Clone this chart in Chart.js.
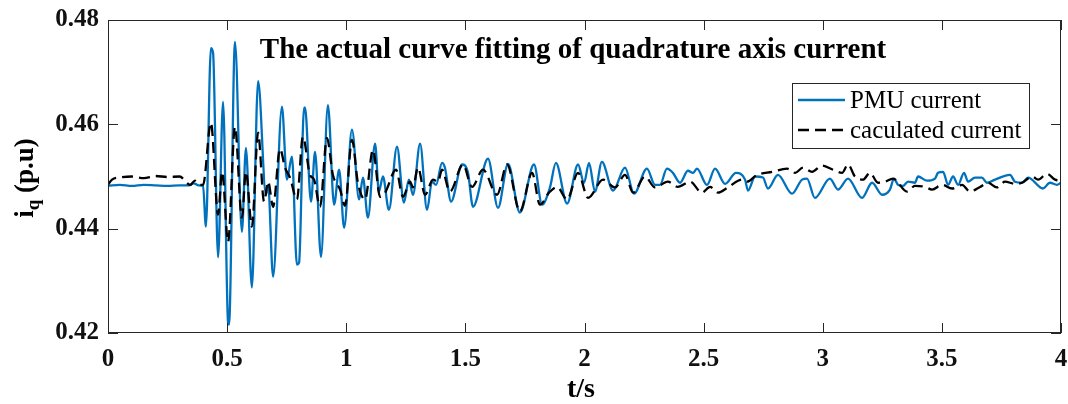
<!DOCTYPE html>
<html><head><meta charset="utf-8">
<script src="https://cdn.jsdelivr.net/npm/chart.js@4.4.0/dist/chart.umd.min.js"></script>
<style>html,body{margin:0;padding:0;background:#fff;overflow:hidden}#wrap{width:1068px;height:404px;position:relative}</style>
</head><body><div id="wrap"><canvas id="c" width="1068" height="404"></canvas></div>
<script>
// ---- data ----
const tPMU = [
0,0.05,0.1,0.15,0.2,0.25,0.3,0.34,0.36,0.38,0.399,
0.411,0.432,0.441,0.462,0.483,0.504,0.508,0.533,0.562,0.579,
0.604,0.630,0.663,0.672,0.693,0.730,0.751,0.772,0.793,0.802,
0.823,0.827,0.852,0.869,0.894,0.923,0.949,0.970,0.991,1.024,
1.054,1.070,1.091,1.121,1.137,1.154,1.179,1.213,1.242,1.263,
1.280,1.310,1.339,1.360,1.377,1.402,1.414,1.440,1.486,1.511,
1.532,1.595,1.637,1.679,1.729,1.788,1.822,1.855,1.880,1.927,
1.973,1.998,2.019,2.044,2.073,2.120,2.170,2.208,2.262,2.296,
2.317,2.346,2.371,2.401,2.434,2.455,2.472,2.514,2.548,2.590,
2.636,2.674,2.686,2.716,2.749,2.770,2.812,2.871,2.913,2.934,
2.967,3.030,3.064,3.106,3.165,3.207,3.249,3.282,3.299,3.316,
3.337,3.358,3.387,3.400,3.438,3.471,3.484,3.505,3.526,3.547,
3.568,3.593,3.610,3.639,3.668,3.689,3.723,3.786,3.807,3.836,
3.862,3.924,3.954,3.983,4.0];
const iPMU = [
0.4482,0.4484,0.4482,0.4484,0.4483,0.4482,0.4483,0.4483,0.4487,0.4483,0.4482,
0.4404,0.4746,0.4737,0.4345,0.4643,0.4220,0.4216,0.4758,0.4394,0.4555,
0.4287,0.4683,0.4465,0.4484,0.4308,0.4634,0.4494,0.4538,0.4331,0.4335,
0.4632,0.4632,0.4452,0.4547,0.4346,0.4637,0.4446,0.4513,0.4402,0.4590,
0.4456,0.4498,0.4421,0.4563,0.4471,0.4500,0.4436,0.4557,0.4450,0.4494,
0.4465,0.4563,0.4436,0.4490,0.4484,0.4526,0.4517,0.4452,0.4523,0.4507,
0.4442,0.4534,0.4440,0.4524,0.4431,0.4523,0.4446,0.4479,0.4526,0.4448,
0.4523,0.4488,0.4526,0.4471,0.4528,0.4473,0.4517,0.4467,0.4515,0.4484,
0.4484,0.4515,0.4507,0.4488,0.4511,0.4507,0.4515,0.4484,0.4515,0.4486,
0.4507,0.4494,0.4473,0.4500,0.4498,0.4477,0.4503,0.4467,0.4494,0.4496,
0.4459,0.4496,0.4475,0.4496,0.4459,0.4488,0.4465,0.4475,0.4496,0.4484,
0.4482,0.4490,0.4488,0.4500,0.4492,0.4496,0.4507,0.4509,0.4484,0.4500,
0.4484,0.4507,0.4490,0.4498,0.4498,0.4488,0.4494,0.4503,0.4490,0.4488,
0.4498,0.4477,0.4488,0.4484,0.4488];
const tCalc = [
0,0.017,0.05,0.1,0.15,0.2,0.25,0.3,0.345,0.365,0.387,0.399,
0.432,0.462,0.479,0.504,0.533,0.562,0.579,0.604,0.630,0.655,
0.672,0.693,0.722,0.743,0.764,0.793,0.818,0.848,0.865,0.890,
0.919,0.944,0.974,0.995,1.024,1.049,1.079,1.112,1.142,1.163,
1.209,1.238,1.268,1.280,1.301,1.331,1.364,1.385,1.402,1.435,
1.490,1.528,1.574,1.633,1.675,1.729,1.780,1.813,1.851,1.885,
1.927,1.973,2.015,2.078,2.128,2.170,2.204,2.254,2.296,2.350,
2.392,2.443,2.493,2.527,2.560,2.602,2.661,2.682,2.724,2.787,
2.850,2.884,2.917,2.955,2.997,3.043,3.081,3.106,3.135,3.169,
3.198,3.232,3.261,3.295,3.354,3.387,3.429,3.459,3.501,3.543,
3.585,3.618,3.660,3.694,3.731,3.765,3.807,3.836,3.879,3.904,
3.941,3.975,4.0];
const iCalc = [
0.4484,0.4494,0.4498,0.4500,0.4497,0.4501,0.4499,0.4500,0.4484,0.4492,0.4484,0.4484,
0.4603,0.4427,0.4509,0.4375,0.4595,0.4421,0.4509,0.4404,0.4584,0.4452,
0.4490,0.4442,0.4553,0.4517,0.4498,0.4456,0.4576,0.4503,0.4494,0.4442,
0.4574,0.4503,0.4475,0.4444,0.4570,0.4488,0.4456,0.4551,0.4461,0.4469,
0.4513,0.4461,0.4490,0.4479,0.4517,0.4465,0.4494,0.4490,0.4513,0.4471,
0.4523,0.4480,0.4513,0.4465,0.4523,0.4433,0.4507,0.4446,0.4469,0.4480,
0.4456,0.4507,0.4459,0.4494,0.4479,0.4503,0.4469,0.4500,0.4479,0.4490,
0.4480,0.4490,0.4469,0.4480,0.4469,0.4479,0.4494,0.4490,0.4503,0.4509,
0.4515,0.4507,0.4517,0.4509,0.4521,0.4513,0.4507,0.4523,0.4500,0.4494,
0.4507,0.4488,0.4490,0.4496,0.4471,0.4482,0.4480,0.4475,0.4484,0.4477,
0.4484,0.4471,0.4480,0.4488,0.4479,0.4490,0.4486,0.4488,0.4500,0.4494,
0.4505,0.4494,0.4492];
const xTicks = [0,0.5,1,1.5,2,2.5,3,3.5,4];
const yTicks = [0.42,0.44,0.46,0.48];
const xTickLabels = ['0','0.5','1','1.5','2','2.5','3','3.5','4'];
const yTickLabels = ['0.42','0.44','0.46','0.48'];
const seriesNames = ['PMU current','caculated current'];
const titleText = 'The actual curve fitting of quadrature axis current';
const xTitle = 't/s';

const BLUE = '#0072BD';
const SERIF = '"Liberation Serif","Times New Roman",serif';
const DASH = [11,6];

const decor = {
  id:'decor',
  afterDatasetsDraw(chart){
    const {ctx, chartArea:a, scales:{x,y}} = chart;
    ctx.save();
    ctx.strokeStyle='#262626'; ctx.lineWidth=1;
    ctx.strokeRect(a.left+0.5, a.top+0.5, a.right-a.left-1, a.bottom-a.top-1);
    const L=10;
    ctx.beginPath();
    xTicks.forEach(v=>{const p=Math.round(x.getPixelForValue(v))+0.5;
      ctx.moveTo(p,a.bottom); ctx.lineTo(p,a.bottom-L);
      ctx.moveTo(p,a.top); ctx.lineTo(p,a.top+L);});
    yTicks.forEach(v=>{const p=Math.round(y.getPixelForValue(v))+0.5;
      ctx.moveTo(a.left,p); ctx.lineTo(a.left+L,p);
      ctx.moveTo(a.right,p); ctx.lineTo(a.right-L,p);});
    ctx.stroke();

    // title
    ctx.fillStyle='#000';
    ctx.font='bold 29px '+SERIF;
    ctx.textAlign='center'; ctx.textBaseline='alphabetic';
    ctx.fillText(titleText, 573, 58);

    // x title
    ctx.font='bold 28px '+SERIF;
    ctx.textBaseline='middle';
    ctx.fillText(xTitle, 581, 390);

    // y title  i_q (p.u)
    ctx.save();
    ctx.translate(33,178); ctx.rotate(-Math.PI/2);
    const f1='bold 27px '+SERIF, f2='bold 19px '+SERIF;
    ctx.textBaseline='alphabetic'; ctx.textAlign='left';
    ctx.font=f1; const w1=ctx.measureText('i').width, w3=ctx.measureText(' (p.u)').width;
    ctx.font=f2; const w2=ctx.measureText('q').width;
    let sx=-(w1+w2+w3)/2;
    ctx.font=f1; ctx.fillText('i',sx,0); sx+=w1;
    ctx.font=f2; ctx.fillText('q',sx,6); sx+=w2;
    ctx.font=f1; ctx.fillText(' (p.u)',sx,0);
    ctx.restore();

    // legend
    ctx.fillStyle='#fff';
    ctx.fillRect(792,83,237,65);
    ctx.strokeStyle='#262626'; ctx.lineWidth=1;
    ctx.strokeRect(792.5,83.5,237,65);
    ctx.lineWidth=2.5;
    ctx.strokeStyle=BLUE; ctx.beginPath(); ctx.moveTo(798,100); ctx.lineTo(845,100); ctx.stroke();
    ctx.strokeStyle='#000'; ctx.setLineDash(DASH); ctx.beginPath(); ctx.moveTo(798,130); ctx.lineTo(845,130); ctx.stroke();
    ctx.setLineDash([]);
    ctx.fillStyle='#000'; ctx.font='25px '+SERIF; ctx.textAlign='left'; ctx.textBaseline='middle';
    ctx.fillText(seriesNames[0], 850, 101);
    ctx.fillText(seriesNames[1], 850, 131);
    ctx.restore();
  }
};

const pts = (ts, vs) => ts.map((t,i)=>({x:t, y:vs[i]}));
const tickFont = {family:SERIF, size:25, weight:'bold'};

new Chart(document.getElementById('c'), {
  type:'line',
  data:{datasets:[
    {label:seriesNames[0], data:pts(tPMU,iPMU), borderColor:BLUE, borderWidth:2.3, pointRadius:0, cubicInterpolationMode:'monotone', fill:false, order:2},
    {label:seriesNames[1], data:pts(tCalc,iCalc), borderColor:'#000', borderWidth:2.3, borderDash:DASH, pointRadius:0, cubicInterpolationMode:'monotone', fill:false, order:1}
  ]},
  options:{
    responsive:false, animation:false, devicePixelRatio:1,
    layout:{padding:{top:20,right:7,left:0,bottom:0}},
    plugins:{legend:{display:false}, tooltip:{enabled:false}},
    scales:{
      x:{type:'linear', min:0, max:4,
        grid:{display:false, drawTicks:false}, border:{display:false},
        afterBuildTicks:s=>{s.ticks=xTicks.map(v=>({value:v}));},
        afterFit:s=>{s.height=71; s.paddingLeft=0; s.paddingRight=0;},
        ticks:{font:tickFont, color:'#111', padding:12, maxRotation:0, autoSkip:false,
          callback:(v)=>xTickLabels[xTicks.indexOf(v)] ?? String(v)}},
      y:{type:'linear', min:0.42, max:0.48,
        grid:{display:false, drawTicks:false}, border:{display:false},
        afterBuildTicks:s=>{s.ticks=yTicks.map(v=>({value:v}));},
        afterFit:s=>{s.width=108; s.paddingTop=0; s.paddingBottom=0;},
        ticks:{font:tickFont, color:'#111', padding:9, autoSkip:false,
          callback:(v)=>{const k=yTicks.findIndex(t=>Math.abs(t-v)<1e-9); return k>=0?yTickLabels[k]:v.toFixed(2);}}}
    }
  },
  plugins:[decor]
});
</script>
</body></html>
